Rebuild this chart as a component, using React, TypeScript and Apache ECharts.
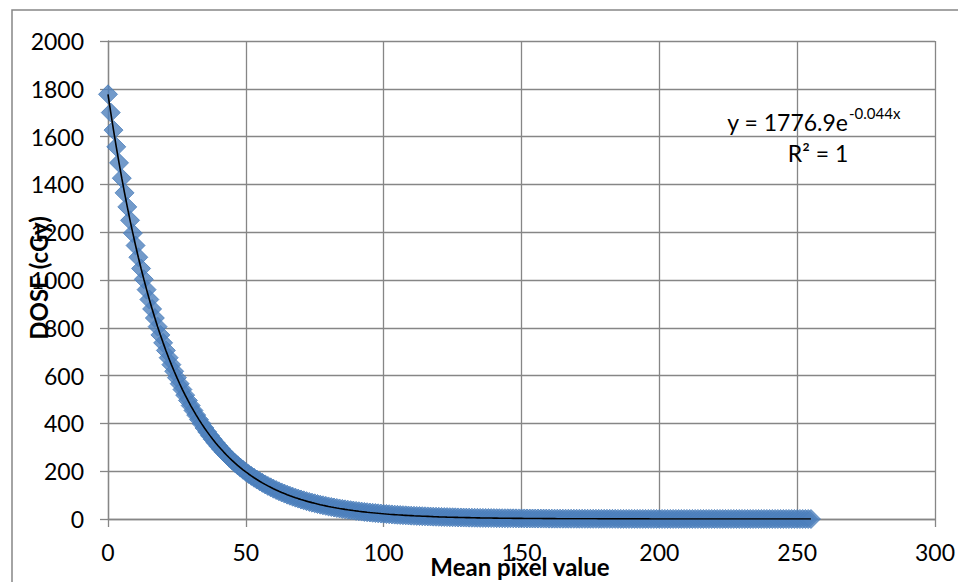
import React, { useEffect, useRef } from "react";
import * as echarts from "echarts";

// Mean pixel value (0..255, one point per integer value) -> dose (cGy)
const doseValues: number[] = [
  1776.9, 1700.4, 1627.2, 1557.2, 1490.1, 1426.0, 1364.6, 1305.9, 1249.7, 1195.9,
  1144.4, 1095.1, 1048.0, 1002.9, 959.7, 918.4, 878.9, 841.0, 804.8, 770.2,
  737.0, 705.3, 674.9, 645.9, 618.1, 591.5, 566.0, 541.7, 518.3, 496.0,
  474.7, 454.2, 434.7, 416.0, 398.1, 380.9, 364.5, 348.8, 333.8, 319.5,
  305.7, 292.6, 280.0, 267.9, 256.4, 245.3, 234.8, 224.7, 215.0, 205.7,
  196.9, 188.4, 180.3, 172.5, 165.1, 158.0, 151.2, 144.7, 138.5, 132.5,
  126.8, 121.3, 116.1, 111.1, 106.3, 101.8, 97.4, 93.2, 89.2, 85.3,
  81.66, 78.15, 74.78, 71.56, 68.48, 65.53, 62.71, 60.01, 57.43, 54.96,
  52.59, 50.33, 48.16, 46.09, 44.10, 42.20, 40.39, 38.65, 36.99, 35.39,
  33.87, 32.41, 31.02, 29.68, 28.40, 27.18, 26.01, 24.89, 23.82, 22.79,
  21.81, 20.87, 19.97, 19.11, 18.29, 17.50, 16.75, 16.03, 15.34, 14.68,
  14.05, 13.45, 12.87, 12.31, 11.78, 11.28, 10.79, 10.33, 9.88, 9.46,
  9.05, 8.66, 8.29, 7.93, 7.59, 7.26, 6.95, 6.65, 6.36, 6.09,
  5.83, 5.58, 5.34, 5.11, 4.89, 4.68, 4.48, 4.28, 4.10, 3.92,
  3.75, 3.59, 3.44, 3.29, 3.15, 3.01, 2.88, 2.76, 2.64, 2.53,
  2.42, 2.31, 2.21, 2.12, 2.03, 1.94, 1.86, 1.78, 1.70, 1.63,
  1.56, 1.49, 1.43, 1.36, 1.31, 1.25, 1.20, 1.14, 1.10, 1.05,
  1.00, 0.96, 0.92, 0.88, 0.84, 0.80, 0.77, 0.74, 0.71, 0.68,
  0.65, 0.62, 0.59, 0.57, 0.54, 0.52, 0.50, 0.47, 0.45, 0.43,
  0.42, 0.40, 0.38, 0.36, 0.35, 0.33, 0.32, 0.31, 0.29, 0.28,
  0.27, 0.26, 0.25, 0.23, 0.22, 0.22, 0.21, 0.20, 0.19, 0.18,
  0.17, 0.17, 0.16, 0.15, 0.14, 0.14, 0.13, 0.13, 0.12, 0.12,
  0.11, 0.11, 0.10, 0.10, 0.09, 0.09, 0.09, 0.08, 0.08, 0.07,
  0.07, 0.07, 0.07, 0.06, 0.06, 0.06, 0.05, 0.05, 0.05, 0.05,
  0.05, 0.04, 0.04, 0.04, 0.04, 0.04, 0.04, 0.03, 0.03, 0.03,
  0.03, 0.03, 0.03, 0.03, 0.02, 0.02,
];

const xAxisRange = { min: 0, max: 300, interval: 50 };
const yAxisRange = { min: 0, max: 2000, interval: 200 };

const xTitle = "Mean pixel value";
const yTitle = "DOSE (cGy)";
const equationMain = "y = 1776.9e";
const equationExp = "-0.044x";
const rSquared = "R² = 1";

const FONT = "Lato, 'Open Sans', sans-serif";
const GRID = "#868686";
const BLUE = "#4F81BD";

export default function App() {
  const ref = useRef<HTMLDivElement>(null);

  useEffect(() => {
    if (!ref.current) return;
    const chart = echarts.init(ref.current, undefined, { renderer: "svg" });
    const points = doseValues.map((d, i) => [i, d]);

    const axisCommon = {
      axisLine: { show: true, lineStyle: { color: GRID, width: 1.3 } },
      axisTick: { show: true, inside: false, length: 8, lineStyle: { color: GRID, width: 1.3 } },
      splitLine: { show: true, lineStyle: { color: GRID, width: 1.3 } },
    };

    chart.setOption({
      animation: false,
      backgroundColor: "#ffffff",
      grid: { left: 108, top: 41, right: 23, bottom: 63, containLabel: false },
      xAxis: {
        type: "value",
        ...xAxisRange,
        ...axisCommon,
        axisLabel: {
          color: "#000",
          fontFamily: FONT,
          fontSize: 23,
          margin: 21,
          formatter: (v: number) => String(v),
        },
      },
      yAxis: {
        type: "value",
        ...yAxisRange,
        ...axisCommon,
        axisLabel: {
          color: "#000",
          fontFamily: FONT,
          fontSize: 23,
          margin: 24,
          formatter: (v: number) => String(v),
        },
      },
      series: [
        {
          type: "scatter",
          data: points,
          symbol: "diamond",
          symbolSize: 19,
          itemStyle: { color: BLUE, borderColor: "#4a7ebb", borderWidth: 1 },
          z: 2,
        },
        {
          type: "line",
          data: points,
          showSymbol: false,
          symbol: "none",
          lineStyle: { color: "#000", width: 1.6 },
          z: 3,
        },
      ],
      graphic: [
        {
          type: "rect",
          shape: { x: 12, y: 10, width: 1000, height: 700 },
          style: { fill: "none", stroke: GRID, lineWidth: 1.5 },
          silent: true,
          z: -10,
        },
        {
          type: "text",
          x: 520,
          y: 566,
          style: {
            text: xTitle,
            font: `bold 24px ${FONT}`,
            fill: "#000",
            textAlign: "center",
            textVerticalAlign: "middle",
          },
          z: 100,
        },
        {
          type: "text",
          x: 38,
          y: 278,
          rotation: Math.PI / 2,
          style: {
            text: yTitle,
            font: `bold 24px ${FONT}`,
            fill: "#000",
            textAlign: "center",
            textVerticalAlign: "middle",
          },
          z: 100,
        },
        {
          type: "text",
          x: 848,
          y: 122,
          style: {
            text: equationMain,
            font: `23px ${FONT}`,
            fill: "#000",
            textAlign: "right",
            textVerticalAlign: "middle",
          },
          z: 100,
        },
        {
          type: "text",
          x: 849,
          y: 113,
          style: {
            text: equationExp,
            font: `15px ${FONT}`,
            fill: "#000",
            textAlign: "left",
            textVerticalAlign: "middle",
          },
          z: 100,
        },
        {
          type: "text",
          x: 818,
          y: 153,
          style: {
            text: rSquared,
            font: `23px ${FONT}`,
            fill: "#000",
            textAlign: "center",
            textVerticalAlign: "middle",
          },
          z: 100,
        },
      ],
    });

    return () => chart.dispose();
  }, []);

  return (
    <div
      ref={ref}
      style={{ position: "fixed", left: 0, top: 0, width: 958, height: 582, background: "#fff" }}
    />
  );
}
